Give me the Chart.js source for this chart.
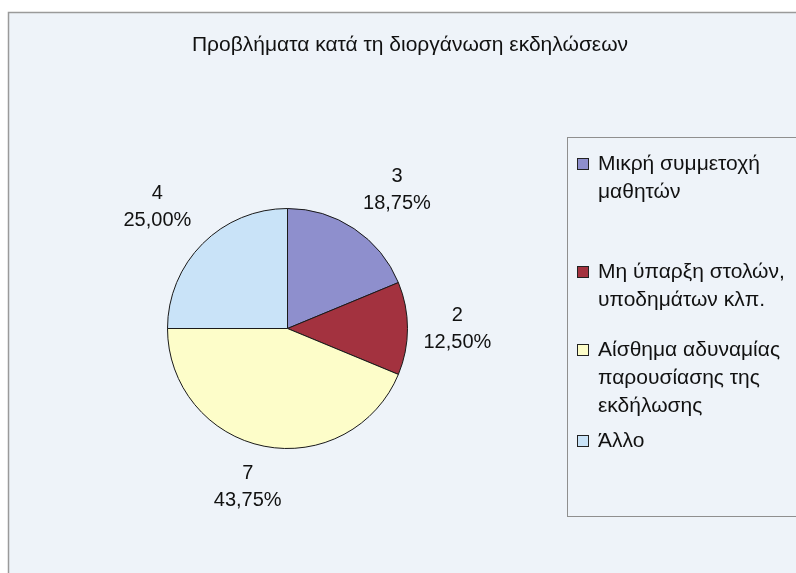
<!DOCTYPE html>
<html>
<head>
<meta charset="utf-8">
<script src="https://cdn.jsdelivr.net/npm/chart.js@4.4.0/dist/chart.umd.min.js"></script>
<style>
  body { margin: 0; background: #fff; }
  #wrap { width: 796px; height: 573px; position: relative; }
</style>
</head>
<body>
<div id="wrap"><canvas id="myChart" width="796" height="573"></canvas></div>
<script>
// dati del grafico
const chartTitle = 'Προβλήματα κατά τη διοργάνωση εκδηλώσεων'
const categories = [
  'Μικρή συμμετοχή μαθητών',
  'Μη ύπαρξη στολών, υποδημάτων κλπ.',
  'Αίσθημα αδυναμίας παρουσίασης της εκδήλωσης',
  'Άλλο',
]
const legendLines = [
  ['Μικρή συμμετοχή', 'μαθητών'],
  ['Μη ύπαρξη στολών,', 'υποδημάτων κλπ.'],
  ['Αίσθημα αδυναμίας', 'παρουσίασης της', 'εκδήλωσης'],
  ['Άλλο'],
]
const counts = [3, 2, 7, 4]
const sliceColors = ['#8e8fcd', '#a3323f', '#fdfdc9', '#c9e3f8']

const total = counts.reduce((a, b) => a + b, 0)
const percentText = counts.map(v => ((v / total) * 100).toFixed(2).replace('.', ',') + '%')

// posizioni della legenda (y della prima riga di ogni voce)
const legendItemY = [164, 272, 350, 441]

const labelFont = '20px "Liberation Sans", Arial, sans-serif'
const legendFont = '21px "Liberation Sans", Arial, sans-serif'

// cornice, titolo e legenda
const framePlugin = {
  id: 'frame',
  beforeDraw: function (chart) {
    const ctx = chart.ctx
    ctx.save()
    ctx.fillStyle = '#ffffff'
    ctx.fillRect(0, 0, chart.width, chart.height)
    ctx.fillStyle = '#eef3f9'
    ctx.fillRect(8, 12, chart.width, chart.height)
    ctx.strokeStyle = '#9a9a9a'
    ctx.lineWidth = 1.5
    ctx.strokeRect(8.5, 12.5, chart.width + 10, chart.height + 10)

    // titolo
    ctx.fillStyle = '#111'
    ctx.font = '21px "Liberation Sans", Arial, sans-serif'
    ctx.textAlign = 'center'
    ctx.textBaseline = 'middle'
    ctx.fillText(chartTitle, 410, 45)

    // riquadro legenda
    ctx.strokeStyle = '#8f8f8f'
    ctx.lineWidth = 1
    ctx.strokeRect(567.5, 137.5, 300, 379)
    ctx.restore()
  },
  afterDraw: function (chart) {
    const ctx = chart.ctx
    ctx.save()
    ctx.font = legendFont
    ctx.textBaseline = 'middle'
    ctx.textAlign = 'left'
    legendLines.forEach((lines, i) => {
      const y0 = legendItemY[i]
      ctx.fillStyle = sliceColors[i]
      ctx.fillRect(577, y0 - 6, 12, 12)
      ctx.strokeStyle = '#222'
      ctx.lineWidth = 1
      ctx.strokeRect(577.5, y0 - 5.5, 11, 11)
      ctx.fillStyle = '#111'
      lines.forEach((line, j) => {
        ctx.fillText(line, 598, y0 + j * 28)
      })
    })
    ctx.restore()
  },
}

// etichette esterne: valore e percentuale
const outsideLabels = {
  id: 'outsideLabels',
  afterDatasetsDraw: function (chart) {
    const ctx = chart.ctx
    const meta = chart.getDatasetMeta(0)
    const clamp = v => Math.max(-1, Math.min(1, v))
    ctx.save()
    ctx.font = labelFont
    ctx.fillStyle = '#111'
    ctx.textAlign = 'center'
    ctx.textBaseline = 'middle'
    meta.data.forEach((arc, i) => {
      const p = arc.getProps(['x', 'y', 'startAngle', 'endAngle', 'outerRadius'], true)
      const mid = (p.startAngle + p.endAngle) / 2
      const c = Math.cos(mid)
      const s = Math.sin(mid)
      const halfW = ctx.measureText(percentText[i]).width / 2
      const halfH = 25
      // punto di ancoraggio appena fuori dalla torta
      const ax = p.x + c * (p.outerRadius + 16)
      const ay = p.y + s * (p.outerRadius + 16)
      const cx = ax + halfW * clamp(c / 0.5)
      const cy = ay + halfH * clamp(s / 0.5)
      ctx.fillText(String(counts[i]), cx, cy - 13.5)
      ctx.fillText(percentText[i], cx, cy + 13.5)
    })
    ctx.restore()
  },
}

const ctx = document.getElementById('myChart').getContext('2d')

const myPieChart = new Chart(ctx, {
  type: 'pie',
  data: {
    labels: categories,
    datasets: [
      {
        data: counts,
        backgroundColor: sliceColors,
        borderColor: '#1a1a1a',
        borderWidth: 1,
      },
    ],
  },
  options: {
    responsive: false,
    animation: false,
    events: [],
    layout: {
      padding: { left: 167, right: 388, top: 208, bottom: 124 },
    },
    plugins: {
      legend: { display: false },
      title: { display: false },
      tooltip: { enabled: false },
    },
  },
  plugins: [framePlugin, outsideLabels],
})
</script>
</body>
</html>
